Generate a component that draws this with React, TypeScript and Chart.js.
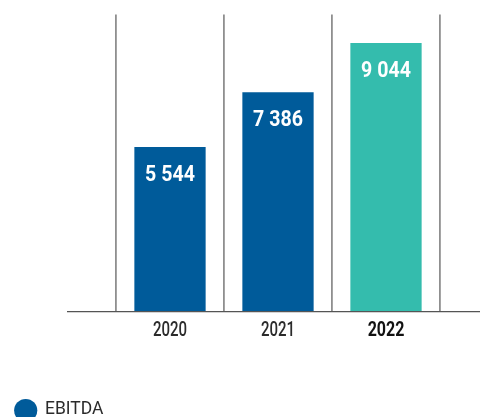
import React, { useEffect, useRef } from "react";
import { Chart, registerables } from "chart.js";

Chart.register(...registerables);

const categories = ["2020", "2021", "2022"];
const ebitda = [5544, 7386, 9044];
const valueLabels = ["5 544", "7 386", "9 044"];
const seriesName = "EBITDA";
const barColors = ["#005b9a", "#005b9a", "#34bcad"];
const yMax = 10000;

const FONT = "Roboto, 'DejaVu Sans', sans-serif";

function condensedText(ctx: any, text: string, x: number, y: number, sx: number) {
  ctx.save();
  ctx.translate(x, y);
  ctx.scale(sx, 1);
  ctx.fillText(text, 0, 0);
  ctx.restore();
}

const overlay = {
  id: "overlay",
  afterDatasetsDraw(chart: any) {
    const { ctx } = chart;
    const meta = chart.getDatasetMeta(0);
    const y = chart.scales.y;
    const x = chart.scales.x;
    const zeroY = y.getPixelForValue(0);
    ctx.save();
    // baseline
    ctx.strokeStyle = "#555555";
    ctx.lineWidth = 1.2;
    ctx.beginPath();
    ctx.moveTo(67, zeroY);
    ctx.lineTo(480, zeroY);
    ctx.stroke();
    // value labels
    ctx.fillStyle = "#ffffff";
    ctx.font = `bold 22.5px ${FONT}`;
    ctx.textAlign = "center";
    ctx.textBaseline = "middle";
    meta.data.forEach((bar: any, i: number) => {
      condensedText(ctx, valueLabels[i], bar.x, bar.y + 28, 0.87);
    });
    // category labels
    categories.forEach((c, i) => {
      const bold = i === categories.length - 1;
      ctx.fillStyle = bold ? "#111111" : "#2b2b2b";
      ctx.font = `${bold ? "bold" : "500"} 20px ${FONT}`;
      condensedText(ctx, c, x.getPixelForValue(i), zeroY + 19.5, bold ? 0.8 : 0.75);
    });
    // legend
    ctx.fillStyle = barColors[0];
    ctx.beginPath();
    ctx.arc(25.7, 410.5, 11.6, 0, Math.PI * 2);
    ctx.fill();
    ctx.fillStyle = "#2b2b2b";
    ctx.font = `19px ${FONT}`;
    ctx.textAlign = "left";
    condensedText(ctx, seriesName, 45, 409.5, 0.92);
    ctx.restore();
  },
};

export default function App() {
  const ref = useRef<HTMLCanvasElement>(null);
  useEffect(() => {
    if (!ref.current) return;
    const chart = new Chart(ref.current, {
      type: "bar",
      data: {
        labels: categories,
        datasets: [
          {
            label: seriesName,
            data: ebitda,
            backgroundColor: barColors,
            barPercentage: 0.66,
            categoryPercentage: 1,
          },
        ],
      },
      options: {
        animation: false,
        responsive: false,
        maintainAspectRatio: false,
        layout: { padding: { left: 116, right: 40, top: 14.6, bottom: 0 } },
        plugins: { legend: { display: false }, tooltip: { enabled: false } },
        scales: {
          x: {
            offset: true,
            grid: {
              offset: true,
              color: "#8f8f8f",
              lineWidth: 1.8,
              drawTicks: false,
            },
            border: { display: false },
            ticks: { display: false },
            afterFit(scale: any) {
              scale.height = 417 - 311.7;
            },
          },
          y: {
            display: false,
            min: 0,
            max: yMax,
          },
        },
      },
      plugins: [overlay],
    });
    return () => chart.destroy();
  }, []);
  return (
    <div style={{ position: "absolute", left: 0, top: 0, width: 480, height: 417 }}>
      <canvas ref={ref} width={480} height={417} style={{ width: 480, height: 417 }} />
    </div>
  );
}
